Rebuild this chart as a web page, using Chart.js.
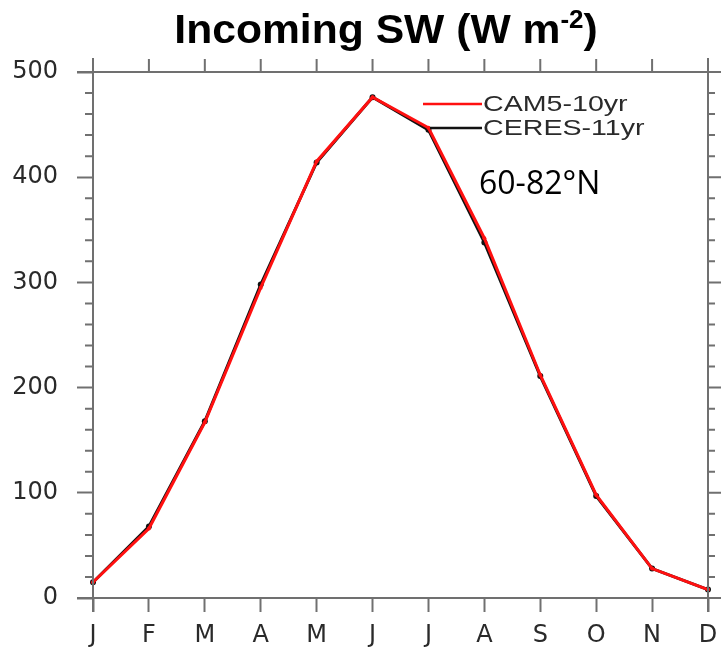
<!DOCTYPE html>
<html>
<head>
<meta charset="utf-8">
<script src="https://cdn.jsdelivr.net/npm/chart.js@4/dist/chart.umd.min.js"></script>
<style>
  html, body { margin: 0; padding: 0; background: #fff; }
  canvas { display: block; }
</style>
</head>
<body>
<canvas id="c" width="721" height="652"></canvas>
<script>
// Monthly incoming shortwave, 60-82°N
const months = ['J', 'F', 'M', 'A', 'M', 'J', 'J', 'A', 'S', 'O', 'N', 'D'];
const cam5 = [15, 66, 167, 295, 415, 476, 447, 342, 212, 98, 28, 8];
const ceres = [15, 68, 168, 298, 414, 476, 445, 338, 211, 97, 28, 8];
const yTicks = [0, 100, 200, 300, 400, 500];
const yMinorStep = 20;
const titleMain = 'Incoming SW (W m';
const titleSup = '-2';
const titleEnd = ')';
const regionLabel = '60-82°N';

const AXIS = '#707070';
const LABEL = '#2a2a2a';
const MAJOR = 14;
const MINOR = 7;

// Frame, ticks on the top/right sides, minor ticks, title, legend and region label
const decor = {
  id: 'decor',
  afterDraw(chart) {
    const { ctx, chartArea: a, scales } = chart;
    const x = scales.x, y = scales.y;
    ctx.save();
    ctx.strokeStyle = AXIS;
    ctx.lineWidth = 2;
    ctx.lineCap = 'butt';
    ctx.beginPath();
    // frame lines running past each corner
    ctx.moveTo(a.left - MAJOR - 2, a.top); ctx.lineTo(a.right + MAJOR, a.top);
    ctx.moveTo(a.left - MAJOR - 2, a.bottom); ctx.lineTo(a.right + MAJOR, a.bottom);
    ctx.moveTo(a.left, a.top - MAJOR); ctx.lineTo(a.left, a.bottom + MAJOR);
    ctx.moveTo(a.right, a.top - MAJOR); ctx.lineTo(a.right, a.bottom + MAJOR);
    // top ticks at each month
    months.forEach((m, i) => {
      const px = x.getPixelForValue(i);
      ctx.moveTo(px, a.top); ctx.lineTo(px, a.top - MAJOR + 1);
    });
    // left minor ticks and right ticks
    for (let v = y.min; v <= y.max; v += yMinorStep) {
      const py = y.getPixelForValue(v);
      const major = v % 100 === 0;
      if (!major) { ctx.moveTo(a.left, py); ctx.lineTo(a.left - MINOR - 1, py); }
      ctx.moveTo(a.right, py); ctx.lineTo(a.right + (major ? MAJOR : MINOR), py);
    }
    ctx.stroke();

    // title with superscript
    ctx.fillStyle = '#000';
    ctx.textBaseline = 'alphabetic';
    ctx.textAlign = 'left';
    const sx = 1.04;
    const big = 'bold 41px "Liberation Sans", Arial, sans-serif';
    const small = 'bold 25px "Liberation Sans", Arial, sans-serif';
    ctx.font = big;
    const w1 = ctx.measureText(titleMain).width;
    const w3 = ctx.measureText(titleEnd).width;
    ctx.font = small;
    const w2 = ctx.measureText(titleSup).width;
    const total = (w1 + w2 + w3) * sx;
    const cx = a.left + 293;
    ctx.save();
    ctx.translate(cx - total / 2, 43);
    ctx.scale(sx, 1);
    ctx.font = big;
    ctx.fillText(titleMain, 0, 0);
    ctx.font = small;
    ctx.fillText(titleSup, w1, -15);
    ctx.font = big;
    ctx.fillText(titleEnd, w1 + w2, 0);
    ctx.restore();

    // legend: line stub then label, one row per dataset
    const lx0 = a.left + 330, lx1 = a.left + 389, ly = a.top + 32, dy = 24;
    chart.data.datasets.forEach((ds, i) => {
      const yy = ly + i * dy;
      ctx.strokeStyle = ds.borderColor;
      ctx.lineWidth = 2.5;
      ctx.beginPath();
      ctx.moveTo(lx0 + (i === 0 ? 0 : 7), yy); ctx.lineTo(lx1, yy);
      ctx.stroke();
      ctx.save();
      ctx.translate(lx1 + 1, yy);
      ctx.scale(1.3, 1);
      ctx.fillStyle = LABEL;
      ctx.textBaseline = 'middle';
      ctx.font = '22px "Liberation Sans", Arial, sans-serif';
      ctx.fillText(ds.label, 0, 1);
      ctx.restore();
    });

    ctx.fillStyle = '#000';
    ctx.textBaseline = 'alphabetic';
    ctx.font = '32px "Open Sans", "Noto Sans", sans-serif';
    ctx.fillText(regionLabel, a.left + 386, a.top + 122);
    ctx.restore();
  }
};

new Chart(document.getElementById('c'), {
  type: 'line',
  data: {
    labels: months,
    datasets: [
      {
        label: 'CAM5-10yr',
        data: cam5,
        borderColor: '#ff1010',
        backgroundColor: '#ff1010',
        borderWidth: 3,
        pointRadius: 2,
        pointBorderWidth: 0,
        tension: 0,
        order: 0
      },
      {
        label: 'CERES-11yr',
        data: ceres,
        borderColor: '#111111',
        backgroundColor: '#111111',
        borderWidth: 3,
        pointRadius: 3,
        pointBorderWidth: 0,
        tension: 0,
        order: 1
      }
    ]
  },
  options: {
    responsive: false,
    animation: false,
    devicePixelRatio: 1,
    layout: { padding: { top: 72, right: 13, left: 0, bottom: 0 } },
    plugins: {
      legend: { display: false },
      title: { display: false },
      tooltip: { enabled: false }
    },
    scales: {
      x: {
        type: 'category',
        offset: false,
        border: { display: false },
        grid: {
          drawOnChartArea: false,
          drawTicks: true,
          tickLength: MAJOR,
          tickColor: AXIS,
          tickWidth: 2
        },
        ticks: {
          color: LABEL,
          padding: 9,
          maxRotation: 0,
          autoSkip: false,
          font: { family: '"DejaVu Sans", sans-serif', size: 24 }
        },
        afterFit(s) {
          s.height = 54;
          s.paddingLeft = 0;
          s.paddingRight = 0;
        }
      },
      y: {
        type: 'linear',
        min: 0,
        max: 500,
        border: { display: false },
        afterBuildTicks(s) { s.ticks = yTicks.map(v => ({ value: v })); },
        grid: {
          drawOnChartArea: false,
          drawTicks: true,
          tickLength: 16,
          tickColor: AXIS,
          tickWidth: 2
        },
        ticks: {
          color: LABEL,
          padding: 19,
          font: { family: '"DejaVu Sans", sans-serif', size: 24 }
        },
        afterFit(s) {
          s.width = 93;
          s.paddingTop = 0;
          s.paddingBottom = 0;
        }
      }
    }
  },
  plugins: [decor]
});
</script>
</body>
</html>
